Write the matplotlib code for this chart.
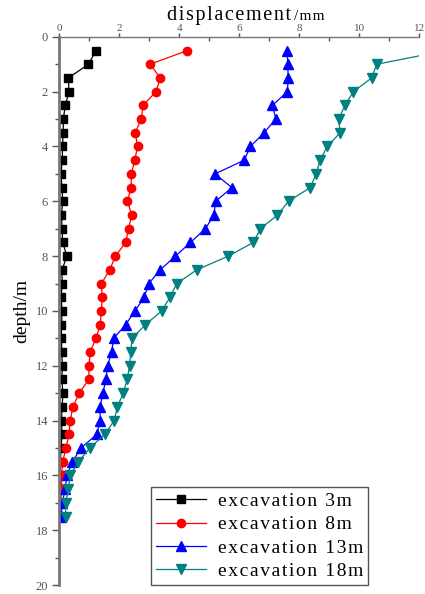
import matplotlib
matplotlib.use('Agg')
import matplotlib.pyplot as plt
from matplotlib.ticker import MultipleLocator

plt.rcParams['font.family'] = ['Liberation Serif', 'DejaVu Serif']

# depth (m) of the measuring points
depth = [0.5 * i for i in range(1, 36)]  # 0.5 ... 17.5

# horizontal displacement (mm) for each excavation stage
disp_3m = [1.23, 0.98, 0.31, 0.33, 0.21, 0.14, 0.14, 0.11, 0.11, 0.06,
           0.10, 0.12, 0.08, 0.10, 0.12, 0.26, 0.10, 0.10, 0.07, 0.10,
           0.08, 0.08, 0.09, 0.11, 0.09, 0.13, 0.10, 0.08, 0.10, 0.06,
           0.05, 0.04, 0.04, 0.03, 0.03]
disp_8m = [4.28, 3.03, 3.38, 3.23, 2.80, 2.74, 2.54, 2.62, 2.52, 2.41,
           2.40, 2.28, 2.42, 2.32, 2.22, 1.88, 1.69, 1.41, 1.44, 1.41,
           1.37, 1.23, 1.03, 1.00, 0.99, 0.67, 0.46, 0.37, 0.33, 0.23,
           0.12, 0.08, 0.09, 0.05, 0.05]
disp_13m = [7.61, 7.62, 7.64, 7.61, 7.11, 7.23, 6.83, 6.38, 6.17, 5.20,
            5.76, 5.22, 5.16, 4.88, 4.38, 3.88, 3.37, 2.99, 2.84, 2.53,
            2.22, 1.82, 1.75, 1.62, 1.56, 1.46, 1.37, 1.37, 1.26, 0.73,
            0.44, 0.26, 0.20, 0.11, 0.07]
disp_18m = [12.9, 10.59, 10.42, 9.81, 9.53, 9.32, 9.37, 8.94, 8.70, 8.57,
            8.37, 7.65, 7.28, 6.71, 6.48, 5.64, 4.59, 3.92, 3.70, 3.42,
            2.88, 2.43, 2.39, 2.35, 2.27, 2.14, 1.94, 1.84, 1.52, 1.03,
            0.64, 0.37, 0.31, 0.22, 0.22]

labels = ['excavation 3m', 'excavation 8m', 'excavation 13m', 'excavation 18m']

HS = '\u200a'  # hair space, gives the wide letter spacing of the original


def spaced(s):
    return HS.join(s)


fig = plt.figure(figsize=(4.25, 5.94), dpi=100)
ax = fig.add_axes([0.139, 0.015, 0.847, 0.923])

ax.plot(disp_3m, depth, color='black', marker='s', markersize=5.5, lw=0.9, label=spaced(labels[0]))
ax.plot(disp_8m, depth, color='#ff0000', marker='o', markersize=6, lw=0.9, label=spaced(labels[1]))
ax.plot(disp_13m, depth, color='#0000ff', marker='^', markersize=6.5, lw=0.9, label=spaced(labels[2]))
ax.plot(disp_18m, depth, color='#008080', marker='v', markersize=6.5, lw=0.9, label=spaced(labels[3]))

ax.set_xlim(0, 12)
ax.set_ylim(20, 0)
ax.xaxis.tick_top()
ax.xaxis.set_major_locator(MultipleLocator(2))
ax.xaxis.set_minor_locator(MultipleLocator(1))
ax.yaxis.set_major_locator(MultipleLocator(2))
ax.yaxis.set_minor_locator(MultipleLocator(1))

ax.spines['right'].set_visible(False)
ax.spines['bottom'].set_visible(False)
ax.spines['left'].set_color('#777777')
ax.spines['left'].set_linewidth(2)
ax.spines['top'].set_color('#777777')
ax.spines['top'].set_linewidth(1)

ax.tick_params(axis='x', which='major', direction='out', length=3, width=1,
               color='#555555', labelcolor='#555555', labelsize=8, pad=0)
ax.tick_params(axis='x', which='minor', direction='in', length=3, width=1, color='#555555')
ax.tick_params(axis='y', which='major', direction='out', length=5, width=1,
               color='#555555', labelcolor='#555555', labelsize=9, pad=3)
ax.tick_params(axis='y', which='minor', direction='out', length=3, width=1, color='#555555')

# axis title on top: big "displacement" followed by a smaller "/mm"
fig.text(167 / 425, 1 - 20 / 594, spaced('displacement'), fontsize=14.5,
         ha='left', va='baseline')
fig.text(294 / 425, 1 - 20 / 594, spaced('/mm'), fontsize=11,
         ha='left', va='baseline')
ax.set_ylabel('depth/m', fontsize=14, labelpad=4)

leg = ax.legend(loc='lower left', bbox_to_anchor=(0.255, 0.0), borderaxespad=0,
                fontsize=14, handlelength=2.6, fancybox=False, framealpha=1,
                edgecolor='#555555', borderpad=0.25, labelspacing=0.3,
                handletextpad=0.6)
leg.get_frame().set_linewidth(1)

fig.savefig('out.png', dpi=100)
